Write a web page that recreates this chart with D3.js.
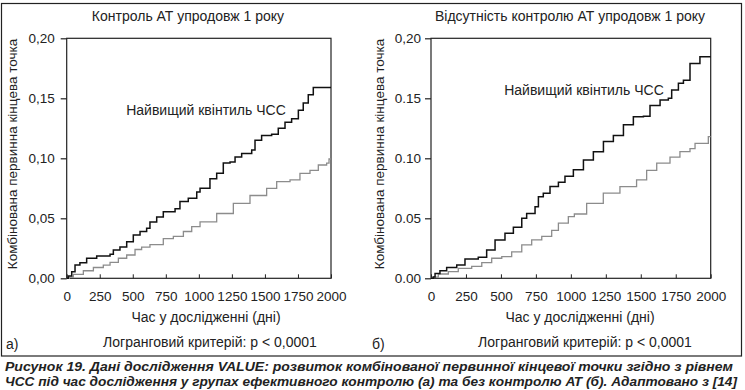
<!DOCTYPE html>
<html><head><meta charset="utf-8">
<script src="https://cdn.jsdelivr.net/npm/d3@7"></script>
<style>
body{margin:0;background:#fff;}
svg text{font-family:"Liberation Sans",Arial,sans-serif;fill:#222;}
</style>
</head><body>
<svg id="c" width="745" height="390"></svg>
<script>
// ---- data ----
const xTicks = [0,250,500,750,1000,1250,1500,1750,2000];
const yTicks = [0,0.05,0.10,0.15,0.20];
const yTickLabelsA = ["0,00","0,05","0,10","0,15","0,20"];
const yTickLabelsB = ["0.00","0.05","0.10","0.15","0,20"];
const titles = ["Контроль АТ упродовж 1 року","Відсутність контролю АТ упродовж 1 року"];
const panelTags = ["а)","б)"];
const yLabel = "Комбінована первинна кінцева точка";
const xLabel = "Час у дослідженні (дні)";
const testLabel = "Логранговий критерій: p < 0,0001";
const seriesLabel = "Найвищий квінтиль ЧСС";
const captionLines = [
 "Рисунок 19. Дані дослідження VALUE: розвиток комбінованої первинної кінцевої точки згідно з рівнем",
 "ЧСС під час дослідження у групах ефективного контролю (а) та без контролю АТ (б). Адаптовано з [14]"
];

const daysA_high = [0,12,38,63,100,151,227,328,353,403,454,504,555,605,630,681,731,820,857,920,984,1009,1084,1135,1185,1236,1274,1324,1400,1425,1475,1551,1601,1652,1702,1753,1790,1828,1866,2000];
const riskA_high = [0,0.002,0.0055,0.011,0.013,0.0167,0.0186,0.020,0.0236,0.026,0.0305,0.036,0.039,0.0417,0.047,0.051,0.0555,0.058,0.064,0.0667,0.072,0.075,0.083,0.0875,0.096,0.097,0.101,0.104,0.107,0.115,0.119,0.120,0.125,0.130,0.133,0.140,0.146,0.153,0.159,0.159];

const daysA_rest = [0,20,50,126,202,277,328,391,454,517,567,630,731,807,883,946,1009,1135,1261,1387,1513,1589,1690,1765,1841,1904,1967,1985,2000];
const riskA_rest = [0,0.001,0.0033,0.0063,0.009,0.011,0.0133,0.0167,0.0194,0.024,0.026,0.028,0.033,0.035,0.039,0.043,0.047,0.054,0.0625,0.069,0.075,0.0805,0.082,0.0875,0.090,0.0944,0.096,0.0994,0.0994];

const daysB_high = [0,16,29,64,112,184,243,338,398,458,529,589,649,684,744,768,803,851,911,958,1018,1090,1161,1233,1304,1376,1447,1519,1566,1638,1697,1721,1769,1805,1852,1923,2000];
const riskB_high = [0,0.001,0.004,0.0063,0.009,0.011,0.016,0.0175,0.0236,0.032,0.0375,0.0425,0.050,0.054,0.0597,0.068,0.0708,0.0764,0.080,0.085,0.0905,0.0986,0.1055,0.114,0.119,0.128,0.1347,0.135,0.144,0.1486,0.150,0.157,0.1625,0.165,0.179,0.1847,0.1847];

const daysB_rest = [0,16,52,124,195,291,363,434,506,577,649,720,792,863,911,982,1025,1113,1232,1351,1470,1542,1614,1709,1780,1852,1888,1983,2000];
const riskB_rest = [0,0.001,0.0036,0.0055,0.0083,0.010,0.013,0.0167,0.018,0.022,0.0278,0.032,0.035,0.040,0.046,0.0514,0.0536,0.0625,0.071,0.0764,0.082,0.090,0.096,0.101,0.1055,0.108,0.1125,0.118,0.118];

// ---- drawing ----
const svg = d3.select("#c");
svg.append("rect").attr("x",1.5).attr("y",3.5).attr("width",740).attr("height",352.5)
  .attr("fill","none").attr("stroke","#222").attr("stroke-width",1.2);

const panels = [
 {x0:66.7,x1:331,yTL:yTickLabelsA,tickPad:6,high:[daysA_high,riskA_high],rest:[daysA_rest,riskA_rest],
  titleX:188,yLabX:17,xLabX:206,testX:210,tagX:6,annX:206,annY:115},
 {x0:431,x1:710.7,yTL:yTickLabelsB,tickPad:4,high:[daysB_high,riskB_high],rest:[daysB_rest,riskB_rest],
  titleX:570,yLabX:384,xLabX:580,testX:585,tagX:372,annX:584,annY:95}
];
const yTop=38.3, yBot=278.3;

panels.forEach((p,i)=>{
  const x = d3.scaleLinear().domain([0,2000]).range([p.x0,p.x1]);
  const y = d3.scaleLinear().domain([0,0.20]).range([yBot,yTop]);
  const g = svg.append("g");
  g.append("rect").attr("x",p.x0).attr("y",yTop).attr("width",p.x1-p.x0).attr("height",yBot-yTop)
    .attr("fill","none").attr("stroke","#222").attr("stroke-width",1.2);
  const ya = g.append("g").attr("transform",`translate(${p.x0},0)`)
    .call(d3.axisLeft(y).tickValues(yTicks).tickSize(6).tickPadding(p.tickPad).tickFormat((d,j)=>p.yTL[j]));
  ya.select(".domain").remove();
  ya.selectAll("line").attr("stroke","#222").attr("stroke-width",1.2);
  ya.selectAll("text").attr("font-size",13.5).attr("fill","#222").attr("font-family","Liberation Sans, Arial, sans-serif");
  const xa = g.append("g").attr("transform",`translate(0,${yBot})`)
    .call(d3.axisBottom(x).tickValues(xTicks).tickSize(-4).tickPadding(13).tickFormat(d3.format("d")));
  xa.select(".domain").remove();
  xa.selectAll("line").attr("stroke","#222").attr("stroke-width",1);
  xa.selectAll("text").attr("font-size",13.5).attr("fill","#222").attr("font-family","Liberation Sans, Arial, sans-serif");
  const line = d3.line().x(d=>x(d[0])).y(d=>y(d[1])).curve(d3.curveStepAfter);
  const rest = p.rest[0].map((t,k)=>[t,p.rest[1][k]]);
  const high = p.high[0].map((t,k)=>[t,p.high[1][k]]);
  g.append("path").attr("d",line(rest)).attr("fill","none").attr("stroke","#8c8c8c").attr("stroke-width",1.3);
  g.append("path").attr("d",line(high)).attr("fill","none").attr("stroke","#111").attr("stroke-width",1.5);
  g.append("text").attr("x",p.titleX).attr("y",21).attr("text-anchor","middle").attr("font-size",14).text(titles[i]);
  g.append("text").attr("transform",`translate(${p.yLabX},154) rotate(-90)`).attr("text-anchor","middle")
    .attr("font-size",13.5).text(yLabel);
  g.append("text").attr("x",p.xLabX).attr("y",322).attr("text-anchor","middle").attr("font-size",14).text(xLabel);
  g.append("text").attr("x",p.testX).attr("y",347).attr("text-anchor","middle").attr("font-size",14).text(testLabel);
  g.append("text").attr("x",p.tagX).attr("y",349).attr("font-size",14).text(panelTags[i]);
  g.append("text").attr("x",p.annX).attr("y",p.annY).attr("text-anchor","middle").attr("font-size",14).text(seriesLabel);
});

const capY=[370.5,385.5], capEnd=[733,737];
captionLines.forEach((s,i)=>{
  svg.append("text").attr("x",5).attr("y",capY[i])
    .attr("font-family","Liberation Sans Narrow, DejaVu Sans Condensed, Liberation Sans, sans-serif")
    .attr("font-weight","bold").attr("font-style","italic").attr("font-size",13.5)
    .attr("fill","#1b2048")
    .attr("textLength",capEnd[i]-5).attr("lengthAdjust","spacingAndGlyphs")
    .text(s);
});
</script>
</body></html>
